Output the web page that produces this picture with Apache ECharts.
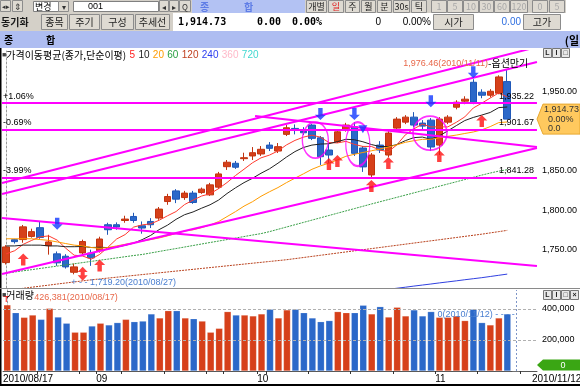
<!DOCTYPE html>
<html><head><meta charset="utf-8">
<script src="https://cdn.jsdelivr.net/npm/echarts@6/dist/echarts.min.js"></script>
<style>html,body{margin:0;padding:0;background:#fff;overflow:hidden}#c{width:580px;height:386px}</style>
</head><body><div id="c"></div>
<script>
// ================= DATA =================
const dates = ['2010/08/17','2010/08/18','2010/08/19','2010/08/20','2010/08/23','2010/08/24','2010/08/25','2010/08/26','2010/08/27','2010/08/30','2010/08/31',
'2010/09/01','2010/09/02','2010/09/03','2010/09/06','2010/09/07','2010/09/08','2010/09/09','2010/09/10','2010/09/13','2010/09/14','2010/09/15','2010/09/16','2010/09/17','2010/09/20','2010/09/24','2010/09/27','2010/09/28','2010/09/29','2010/09/30',
'2010/10/01','2010/10/04','2010/10/05','2010/10/06','2010/10/07','2010/10/08','2010/10/11','2010/10/12','2010/10/13','2010/10/14','2010/10/15','2010/10/18','2010/10/19','2010/10/20','2010/10/21','2010/10/22','2010/10/25','2010/10/26','2010/10/27','2010/10/28','2010/10/29',
'2010/11/01','2010/11/02','2010/11/03','2010/11/04','2010/11/05','2010/11/08','2010/11/09','2010/11/10','2010/11/11','2010/11/12','',''];
const openP  = [1734,1762.9,1763,1767,1778,1755.3,1745,1742,1721.8,1746.2,1746,1749,1781.7,1781.7,1787,1792.1,1780.4,1785.8,1790.1,1810.9,1824.3,1815.9,1821.5,1822.2,1819.3,1829,1854.8,1859.1,1864.9,1868.3,1870.8,1882,1874.5,1895.5,1903,1899.6,1907.2,1891.2,1875.8,1886.2,1900.9,1905,1878.3,1844.4,1882,1869.5,1903.4,1910.9,1917.2,1909.7,1913.4,1882,1910.9,1929.7,1937.3,1961.1,1948.6,1944.8,1947.3,1962];
const closeP = [1753.7,1760.4,1779,1773,1765.7,1760,1733.7,1728.6,1728.6,1760.5,1740,1763.7,1775.4,1778.8,1788.8,1787,1777.5,1781.7,1801.4,1817.2,1813.9,1821.5,1809.7,1826.5,1831.9,1845.7,1860.4,1854.1,1866.1,1872.4,1876.7,1877.9,1880,1903.8,1900.9,1897.5,1890.5,1867.4,1869.5,1898.7,1907.2,1871.6,1854.5,1869.5,1875.8,1897.1,1914.7,1917.2,1907.2,1905.9,1879.6,1914.7,1917.2,1936,1939.8,1936,1944.8,1949.8,1967.85,1914.73];
const highP  = [1756,1764,1781.4,1776.7,1785.8,1769,1748,1744.6,1732.8,1762.9,1750.3,1766.6,1784.2,1784.6,1793,1796.7,1785.8,1790,1804,1820.6,1826.5,1824.3,1824.3,1828.5,1834.4,1848.2,1863.2,1862,1872.4,1879.5,1880.8,1885.8,1884.6,1907.2,1908,1904.6,1908.4,1893.4,1884.6,1900.9,1910,1910.9,1880.8,1872,1887,1899.6,1917.2,1919.7,1923.5,1913.4,1916,1917.2,1919.7,1938.5,1943.5,1964.9,1952.3,1952.5,1969.9,1976.46];
const lowP   = [1731.6,1758,1759,1765.4,1764,1744,1729.9,1726.5,1719.2,1742.8,1729.9,1746.6,1769,1775.4,1784.2,1784.2,1770.4,1777.5,1787.9,1806.8,1808.9,1813,1808,1820.6,1818,1826.9,1850.7,1852,1862,1863.2,1868.3,1874.5,1872,1893.4,1895.5,1894.6,1888.3,1857,1859.5,1884.6,1899,1868.3,1848.2,1840.7,1872,1867,1900.9,1908.4,1904.6,1900.9,1874.5,1869.5,1908.4,1927,1933.5,1933.5,1941,1942,1946,1914.73];
const volume = [426381,376000,346000,361000,333000,404000,348000,308000,250000,250000,290000,308000,297000,312000,333000,318000,322000,368000,342000,389000,389000,342000,337000,322000,250000,275000,383000,361000,361000,355000,368000,398000,342000,394000,398000,376000,342000,318000,325000,383000,376000,376000,424000,368000,415000,348000,411000,355000,394000,355000,383000,346000,346000,355000,325000,398000,312000,297000,342000,368000,0];
const ma5   = [1745,1749,1757,1762,1766.4,1767.6,1762.3,1752.2,1743.3,1742.3,1738.3,1744.3,1753.6,1763.7,1769.3,1778.7,1781.5,1782.8,1787.3,1793,1798.3,1807.1,1812.7,1817.8,1820.7,1827.1,1834.8,1843.7,1851.6,1859.7,1865.9,1869.4,1874.6,1882.2,1887.9,1892,1894.5,1892,1885.2,1884.7,1886.7,1882.9,1880.3,1880.3,1875.7,1873.7,1882.3,1894.9,1902.4,1908.4,1904.9,1904.9,1904.9,1910.7,1917.5,1928.7,1934.8,1941.3,1947.7,1942.6];
const ma10  = [1755,1755,1756,1756,1756,1755,1755,1754,1754,1754.3,1753,1753.3,1752.9,1753.5,1755.8,1758.5,1762.9,1768.2,1775.5,1781.2,1788.5,1794.3,1797.8,1802.5,1806.8,1812.7,1821,1828.2,1834.7,1840.2,1846.5,1852.1,1859.2,1866.9,1873.8,1879,1882,1883.3,1883.7,1886.3,1889.3,1888.7,1886.2,1882.7,1880.2,1880.2,1882.6,1887.6,1891.4,1892.1,1889.3,1893.6,1899.9,1906.5,1912.9,1916.8,1919.8,1923.1,1929.2,1930];
const ma20  = [1764,1764,1764,1764,1763,1762,1760,1758,1756,1755,1753,1752,1753,1755,1757,1759,1761,1763,1765,1767.7,1770.7,1773.8,1775.3,1778,1781.3,1785.6,1791.9,1798.2,1805.1,1810.7,1817.5,1823.2,1828.5,1834.7,1840.3,1845.8,1851.5,1855.8,1859.2,1863.3,1867.9,1870.4,1872.7,1874.8,1877,1879.6,1882.3,1885.5,1887.5,1889.2,1889.3,1891.2,1893,1894.6,1896.6,1898.5,1901.2,1905.3,1910.3,1911.1];
const ma60  = [1720.7,1722.2,1723.7,1725.1,1726.6,1728.1,1729.6,1731,1732.5,1734,1735.5,1737,1738.4,1739.9,1741.4,1742.9,1744.2,1746.1,1748,1749.9,1751.7,1753.6,1755.5,1757.4,1759.3,1761.1,1763,1764.9,1766.8,1768.7,1770.5,1773,1775.9,1778.8,1781.7,1784.6,1787.5,1790.4,1793.3,1796.2,1799.1,1802,1804.9,1807.8,1810.6,1813.4,1816.2,1819,1821.8,1824.6,1827.4,1830.2,1833,1835.8,1838.6,1841.4,1844.2,1846.8,1849.2,1851];
const ma120 = [1699,1700.3,1701.6,1703,1704.3,1705.6,1707,1708.3,1709.6,1711,1712.3,1713.4,1714.5,1715.6,1716.7,1717.8,1718.9,1720,1721.1,1722.2,1723.3,1724.4,1725.5,1726.6,1727.7,1728.8,1729.9,1731,1732.1,1733.2,1734.3,1735.4,1736.5,1737.6,1739,1740.4,1741.8,1743.2,1744.6,1746,1747.4,1748.8,1750.2,1751.6,1753,1754.4,1755.8,1757.2,1758.6,1760,1761.4,1762.8,1764.2,1765.6,1767,1768.4,1769.8,1771.4,1773,1774.6];
const ma240 = [null,null,null,null,null,null,null,null,null,null,null,null,null,null,null,null,null,null,null,null,null,null,null,null,null,null,null,null,null,null,null,null,null,null,null,null,null,null,null,null,null,null,null,null,1699,1700.4,1701.7,1703,1704.4,1705.7,1707,1708.4,1709.7,1711,1712.4,1713.7,1715,1716.5,1718,1719.5];

const priceTicks = [1750, 1800, 1850, 1950];
const volumeTicks = [200000, 400000];
const monthLabelIdx = [0, 11, 30, 51];
const monthLabels = ['2010/08/17', '09', '10', '11'];
const endDateLabel = '2010/11/12';
const weekTickIdx = [4, 9, 11, 14, 19, 24, 26, 30, 31, 36, 41, 46, 51, 56, 61];
const levelPrices = [1935.22, 1901.67, 1841.28];
const levelPcts = ['+1.06%', '-0.69%', '-3.99%'];
// trend lines: [[index, price], [index, price]]
const trendLines = [
  [[-0.5, 1834.3], [62.5, 2005.5]],
  [[-0.5, 1820.4], [62.5, 1986.6]],
  [[-0.5, 1790.2], [62.5, 1729.7]],
  [[-0.5, 1719.6], [62.5, 1878.3]],
  [[29.3, 1918.6], [62.5, 1879.6]]
];
const upArrows = [[2, 1737.8], [11, 1730.2], [38, 1858.2], [39, 1862], [43, 1830.6], [45, 1859.5], [51, 1868.3], [56, 1912.2]];
const dualArrows = [[9, 1720]];
const downArrows = [[6, 1783], [37, 1921], [41, 1921], [50, 1937.3], [55, 1973.7]];
const smallDownArrows = [[42, 1902]];
const circleMarks = [[36.4, 1888.3], [41.4, 1883.3], [49.9, 1897.1]];
const maxMark = {idx: 59, value: 1976.46, date: '2010/11/11', note: '옵션만기'};
const minMark = {idx: 8, value: 1719.20, date: '2010/08/27'};
const volMaxMark = {idx: 0, value: 426381, date: '2010/08/17'};
const volMinMark = {idx: 60, value: 0, date: '2010/11/12'};
const lastPrice = 1914.73;

// ================= STYLE =================
const RED = '#d6401a', BLUE = '#2b68c9', MAG = '#ff00ff';
const NUM = '"Liberation Sans", Arial, sans-serif';
const KR = '"Noto Sans CJK KR", "Liberation Sans", sans-serif';
const circleSizes = [[26, 36], [24, 44], [34, 34]];
const fmt2 = v => v.toLocaleString('en-US', {minimumFractionDigits: 2, maximumFractionDigits: 2});
const nCat = dates.length;

const candleData = openP.map((o, i) => [o, closeP[i], lowP[i], highP[i]]);
const volData = volume.map((v, i) => ({value: v, itemStyle: {color: (closeP[i] !== undefined && closeP[i] < openP[i]) ? BLUE : RED}}));

const UP_PATH = 'path://M5,0L10,5L7,5L7,11L3,11L3,5L0,5Z';
const DOWN_PATH = 'path://M3,0L7,0L7,6L10,6L5,11L0,6L3,6Z';
const DUAL_PATH = 'path://M5,0L10,5L7,5L7,8L10,8L5,13L0,8L3,8L3,5L0,5Z';

const maDefs = [
  [ma5, '#ff3b2f', 'solid'], [ma10, '#222222', 'solid'], [ma20, '#ff9c00', 'solid'],
  [ma60, '#3aa048', [2, 1]], [ma120, '#b8401c', [2, 1]], [ma240, '#3040e0', 'solid']
];

const series = [];
series.push({
  type: 'line', xAxisIndex: 2, yAxisIndex: 0, data: [], silent: true, z: 4,
  markLine: {
    symbol: ['none', 'none'], silent: true, animation: false,
    lineStyle: {color: MAG, width: 2, type: 'solid'},
    data: levelPrices.map((p, k) => ({yAxis: p, label: {show: true, position: 'insideStartTop', formatter: levelPcts[k], color: '#000', fontSize: 9, fontFamily: NUM, distance: [1, 2]}}))
      .concat(levelPrices.map(p => ({yAxis: p, lineStyle: {width: 1, color: 'rgba(0,0,0,0)'}, label: {show: true, position: 'insideEndTop', formatter: fmt2(p), color: '#000', fontSize: 9, fontFamily: NUM, distance: [3, 2]}})))
  }
});
series.push({
  type: 'candlestick', xAxisIndex: 0, yAxisIndex: 0, data: candleData, barWidth: 7, z: 2,
  itemStyle: {color: RED, color0: BLUE, borderColor: '#c2330f', borderColor0: '#1f58b8', borderWidth: 1},
  markPoint: {
    symbol: 'circle', symbolSize: 0, silent: true, animation: false,
    data: [
      {coord: [maxMark.idx, maxMark.value], label: {show: true, position: 'inside', align: 'right', verticalAlign: 'middle', offset: [21, -7],
        formatter: '{a|' + fmt2(maxMark.value) + '(' + maxMark.date + ')}{b|-' + maxMark.note + '}',
        rich: {a: {color: '#e8684a', fontSize: 9, fontFamily: NUM}, b: {color: '#000', fontSize: 10, fontFamily: KR}}}},
      {coord: [minMark.idx, minMark.value], label: {show: true, position: 'inside', align: 'left', verticalAlign: 'middle', offset: [-3, 8],
        formatter: '+ - - ' + fmt2(minMark.value) + '(' + minMark.date + ')', color: '#4a7fd0', fontSize: 9, fontFamily: NUM}}
    ]
  }
});
maDefs.forEach(([d, c, t]) => series.push({type: 'line', xAxisIndex: 0, yAxisIndex: 0, data: d, symbol: 'none', silent: true, z: 3,
  lineStyle: {color: c, width: 1, type: t}, connectNulls: false}));
trendLines.forEach(tl => series.push({type: 'line', xAxisIndex: 2, yAxisIndex: 0, data: tl, symbol: 'none', silent: true, z: 4,
  lineStyle: {color: MAG, width: 2}}));
series.push({type: 'scatter', xAxisIndex: 2, yAxisIndex: 0, data: circleMarks, symbol: 'circle', silent: true, z: 5,
  symbolSize: (v, p) => circleSizes[p.dataIndex], itemStyle: {color: 'rgba(0,0,0,0)', borderColor: MAG, borderWidth: 1.6}});
series.push({type: 'scatter', xAxisIndex: 2, yAxisIndex: 0, data: upArrows, symbol: UP_PATH, symbolSize: [11, 12], silent: true, z: 6, itemStyle: {color: '#ff1010'}});
series.push({type: 'scatter', xAxisIndex: 2, yAxisIndex: 0, data: dualArrows, symbol: DUAL_PATH, symbolSize: [10, 14], silent: true, z: 6, itemStyle: {color: '#ff1010'}});
series.push({type: 'scatter', xAxisIndex: 2, yAxisIndex: 0, data: downArrows, symbol: DOWN_PATH, symbolSize: [11, 12], silent: true, z: 6, itemStyle: {color: '#1038ff'}});
series.push({type: 'scatter', xAxisIndex: 2, yAxisIndex: 0, data: smallDownArrows, symbol: 'triangle', symbolRotate: 180, symbolSize: [9, 8], silent: true, z: 6, itemStyle: {color: '#1038ff'}});
series.push({type: 'line', xAxisIndex: 3, yAxisIndex: 1, data: [], silent: true, z: 1,
  markLine: {symbol: ['none', 'none'], silent: true, label: {show: false}, lineStyle: {color: '#b0b0b0', type: [3, 2], width: 1},
    data: volumeTicks.map(v => ({yAxis: v}))}});
series.push({
  type: 'bar', xAxisIndex: 1, yAxisIndex: 1, data: volData, barWidth: 7, z: 2, silent: true,
  itemStyle: {borderColor: 'rgba(255,255,255,0.35)', borderWidth: 0.5},
  markPoint: {symbol: 'circle', symbolSize: 0, silent: true, data: [
    {coord: [volMaxMark.idx, volMaxMark.value], label: {show: true, position: 'inside', align: 'left', verticalAlign: 'middle', offset: [27, -7],
      formatter: volMaxMark.value.toLocaleString('en-US') + '(' + volMaxMark.date + ')', color: '#e8684a', fontSize: 9, fontFamily: NUM}},
    {coord: [volMaxMark.idx, volMaxMark.value], symbol: 'path://M0,0L6,0L6,1L3.5,1L3.5,6L2.5,6L2.5,1L0,1Z', symbolSize: [6, 6], symbolOffset: [-1, -6], itemStyle: {color: '#ff2020'}, label: {show: false}},
    {coord: [volMinMark.idx, volMinMark.value], label: {show: true, position: 'inside', align: 'right', verticalAlign: 'middle', offset: [-1, -56],
      formatter: volMinMark.value + '(' + volMinMark.date + ') - - - -', color: '#4a7fd0', fontSize: 9, fontFamily: NUM}}
  ]},
  markLine: {symbol: ['none', 'none'], silent: true, label: {show: false}, lineStyle: {color: '#7d95c8', type: [2, 2], width: 1},
    data: [{xAxis: volMinMark.idx}]}
});

const option = {
  animation: false,
  backgroundColor: '#ffffff',
  textStyle: {fontFamily: NUM},
  grid: [
    {left: 2, right: 43, top: 51, height: 237},
    {left: 2, right: 43, top: 290, height: 81}
  ],
  xAxis: [
    {type: 'category', gridIndex: 0, data: dates, axisLine: {show: false}, axisTick: {show: false}, axisLabel: {show: false}, splitLine: {show: false}},
    {type: 'category', gridIndex: 1, data: dates, axisLine: {show: false}, axisTick: {show: false}, axisLabel: {show: false}, splitLine: {show: false}},
    {type: 'value', gridIndex: 0, min: -0.5, max: nCat - 0.5, show: false},
    {type: 'value', gridIndex: 1, min: -0.5, max: nCat - 0.5, position: 'bottom',
      axisLine: {show: true, onZero: false, lineStyle: {color: '#555', width: 1}},
      axisTick: {show: true, length: 3, customValues: weekTickIdx.map(i => i - 0.5), lineStyle: {color: '#333'}},
      axisLabel: {show: true, customValues: monthLabelIdx.map(i => i - 0.5), align: 'left', margin: 3, fontSize: 10, color: '#000', fontFamily: NUM,
        formatter: v => monthLabels[monthLabelIdx.indexOf(Math.round(v + 0.5))] || ''},
      splitLine: {show: false}}
  ],
  yAxis: [
    {type: 'value', gridIndex: 0, position: 'right', min: 1702, max: 2000.5, scale: true,
      axisLine: {show: true, lineStyle: {color: '#9a9a9a', type: [2, 2]}}, axisTick: {show: false}, splitLine: {show: false},
      axisLabel: {show: true, customValues: priceTicks, formatter: v => fmt2(v), fontSize: 9, color: '#000', margin: 5, fontFamily: NUM}},
    {type: 'value', gridIndex: 1, position: 'right', min: 0, max: 522600,
      axisLine: {show: true, lineStyle: {color: '#9a9a9a', type: [2, 2]}}, axisTick: {show: false}, splitLine: {show: false},
      axisLabel: {show: true, customValues: volumeTicks, formatter: v => v.toLocaleString('en-US'), fontSize: 9, color: '#000', margin: 5, fontFamily: NUM}}
  ],
  series: series
};

const chart = echarts.init(document.getElementById('c'), null, {width: 580, height: 386});
chart.setOption(option);

// ================= UI CHROME (graphic) =================
const G = [];
function rect(x, y, w, h, fill, stroke) { G.push({type: 'rect', silent: true, z: 100, shape: {x, y, width: w, height: h}, style: {fill, stroke: stroke || null, lineWidth: stroke ? 1 : 0}}); }
function txt(x, y, text, o) { G.push({type: 'text', silent: true, z: 101, x, y, style: Object.assign({text, fill: '#000', font: '10px ' + KR, align: 'left', verticalAlign: 'middle'}, o || {})}); }
function btn(x, y, w, h, t, color, fs) { rect(x + 0.5, y + 0.5, w - 1, h - 1, '#dedad2', '#8c8c8c'); txt(x + w / 2, y + h / 2 + 0.5, t, {align: 'center', fill: color || '#222', font: (fs || 10) + 'px ' + KR}); }
rect(0, 0, 580, 13, '#d4d0c8');
btn(0, 0, 11, 12, '◂▸', '#333', 7); btn(12, 0, 11, 12, '⇕', '#333', 9);
rect(33.5, 1.5, 25, 10, '#fff', '#808080'); txt(35, 7, '변경', {font: '9px ' + KR}); btn(58, 1, 11, 11, '▾', '#333', 8);
rect(73.5, 1.5, 85, 10, '#fff', '#808080'); txt(88, 7, '001', {font: '9px ' + NUM});
btn(159, 0, 10, 12, '◂', '#333', 8); btn(169, 0, 10, 12, '▸', '#333', 8); btn(179, 0, 12, 12, 'Q', '#333', 8);
rect(192, 0, 113, 13, '#b3c2f3'); txt(200, 7, '종', {fill: '#5f7de6', font: 'bold 10px ' + KR}); txt(244, 7, '합', {fill: '#5f7de6', font: 'bold 10px ' + KR});
[['개별', 306, 21], ['일', 328, 16], ['주', 345, 15], ['월', 361, 15], ['분', 377, 15], ['30s', 393, 17], ['틱', 411, 16]].forEach(b => btn(b[1], 0, b[2], 13, b[0], b[0] === '일' ? '#e02020' : '#222', 9));
[['1', 431, 16], ['5', 447, 16], ['10', 463, 16], ['30', 479, 15], ['60', 494, 16], ['120', 510, 18], ['0', 532, 16], ['5', 549, 16]].forEach(b => btn(b[1], 0, b[2], 13, b[0], '#a8a8a8', 9));
rect(566, 0, 14, 13, '#ffffff');
rect(0, 13, 580, 18, '#ffffff');
rect(0, 13, 173, 18, '#d4d0c8');
txt(1, 22, '동기화', {font: 'bold 10px ' + KR, fill: '#1a1a1a'});
[['종목', 41, 27], ['주기', 69, 31], ['구성', 101, 33], ['추세선', 135, 35]].forEach(b => btn(b[1], 14, b[2], 16, b[0], '#222', 10));
txt(178, 22, '1,914.73', {font: 'bold 10px "DejaVu Sans Mono", monospace'});
txt(281, 22, '0.00', {font: 'bold 10px "DejaVu Sans Mono", monospace', align: 'right'});
txt(292, 22, '0.00%', {font: 'bold 10px "DejaVu Sans Mono", monospace'});
txt(381, 22, '0', {font: '10px ' + NUM, align: 'right'});
txt(431, 22, '0.00%', {font: '10px ' + NUM, align: 'right'});
btn(433, 14, 41, 16, '시가', '#222', 10);
txt(521, 22, '0.00', {font: '10px ' + NUM, align: 'right', fill: '#2f6fe0'});
btn(523, 14, 38, 16, '고가', '#222', 10);
rect(0, 31, 580, 17, '#aebdf1');
txt(4, 40, '종', {font: 'bold 10px ' + KR}); txt(46, 40, '합', {font: 'bold 10px ' + KR});
txt(579, 41, '(일', {font: 'bold 11px ' + KR, align: 'right'});
G.push({type: 'line', silent: true, z: 100, shape: {x1: 0.5, y1: 48, x2: 0.5, y2: 385}, style: {stroke: '#000', lineWidth: 2}});
G.push({type: 'line', silent: true, z: 100, shape: {x1: 0, y1: 288.5, x2: 580, y2: 288.5}, style: {stroke: '#8a8a8a', lineWidth: 1}});
G.push({type: 'line', silent: true, z: 100, shape: {x1: 0, y1: 385, x2: 580, y2: 385}, style: {stroke: '#000', lineWidth: 2}});
G.push({type: 'text', silent: true, z: 101, x: 2, y: 55, style: {
  text: '{q|■}{t|가격이동평균(종가,단순이평)} {r|5} {k|10} {o|20} {g|60} {b|120} {u|240} {p|360} {c|720}', verticalAlign: 'middle',
  rich: {q: {fill: '#444', font: '7px ' + NUM}, t: {fill: '#000', font: '10px ' + KR}, r: {fill: '#ff2020', font: '10px ' + NUM}, k: {fill: '#222', font: '10px ' + NUM},
    o: {fill: '#ff9c00', font: '10px ' + NUM}, g: {fill: '#28a040', font: '10px ' + NUM}, b: {fill: '#c04020', font: '10px ' + NUM}, u: {fill: '#2a3cf0', font: '10px ' + NUM},
    p: {fill: '#ffb8c8', font: '10px ' + NUM}, c: {fill: '#40d8d0', font: '10px ' + NUM}}}});
G.push({type: 'text', silent: true, z: 101, x: 2, y: 295, style: {text: '{q|■}{t|거래량}', verticalAlign: 'middle',
  rich: {q: {fill: '#444', font: '7px ' + NUM}, t: {fill: '#000', font: '10px ' + KR}}}});
function mini(x, y, labels) { labels.forEach((l, k) => { rect(x + k * 9 + 0.5, y + 0.5, 8, 9, '#e8e8e8', '#777'); txt(x + k * 9 + 4.5, y + 5, l, {align: 'center', font: 'bold 7px ' + NUM, fill: '#222'}); }); }
mini(543, 48, ['L', 'I', '□']);
mini(543, 290, ['L', 'I', '□', '×']);
txt(532, 379, endDateLabel, {font: '10px ' + NUM});
const py = chart.convertToPixel({yAxisIndex: 0}, lastPrice);
G.push({type: 'polygon', silent: true, z: 100, shape: {points: [[537, py], [543, py - 15], [580, py - 15], [580, py + 15], [543, py + 15]]}, style: {fill: '#ffc95e', stroke: '#e8a830', lineWidth: 1}});
txt(544, py - 9.5, fmt2(lastPrice), {font: '9px ' + NUM, fill: '#333'});
txt(548, py, '0.00%', {font: '9px ' + NUM, fill: '#333'});
txt(548, py + 9.5, '0.0', {font: '9px ' + NUM, fill: '#333'});
const vy = chart.convertToPixel({yAxisIndex: 1}, volume[volume.length - 1]) - 6;
G.push({type: 'polygon', silent: true, z: 100, shape: {points: [[537, vy], [543, vy - 5.5], [580, vy - 5.5], [580, vy + 5.5], [543, vy + 5.5]]}, style: {fill: '#3aa614'}});
txt(563, vy + 0.5, String(volume[volume.length - 1]), {font: '9px ' + NUM, fill: '#fff', align: 'center'});

chart.setOption({graphic: G});
</script></body></html>
